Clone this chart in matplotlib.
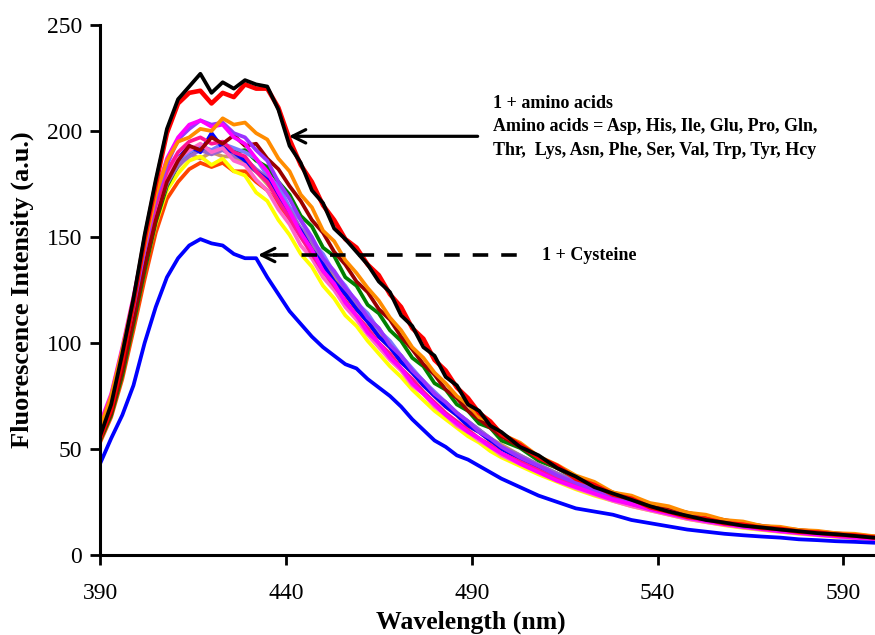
import matplotlib
matplotlib.use("Agg")
import matplotlib.pyplot as plt

# ---------------- data ----------------
wavelength = [390, 393, 396, 399, 402, 405, 408, 411, 414, 417, 420, 423, 426, 429, 432,
              435, 438, 441, 444, 447, 450, 453, 456, 459, 462, 465, 468, 471, 474, 477,
              480, 483, 486, 489, 492, 495, 498, 503, 508, 513, 518, 523, 528, 533, 538,
              543, 548, 553, 558, 563, 568, 573, 578, 583, 588, 593, 598]

probe_black = [56, 71, 95, 121, 151, 177, 201, 215, 221, 227, 218, 223, 220, 224, 222,
               221, 210, 193, 185, 172, 166, 154, 149, 143, 137, 129, 124, 113, 108, 98,
               94, 84, 80, 71, 68, 61, 58, 51, 47, 41, 37, 32, 29, 26, 23,
               20.5, 18.5, 16.5, 15.3, 13.8, 13, 12, 11.2, 10.3, 9.8, 9, 8.2]

probe_red = [55, 69, 92, 119, 149, 175, 199, 213, 218, 219, 213, 218, 216, 222, 220,
             220, 211, 196, 184, 176, 165, 158, 149, 145, 137, 132, 123, 117, 107, 102,
             92, 87, 79, 74, 67, 63, 57, 52, 46, 42, 36, 33, 28.5, 26.5, 22.5,
             20.5, 18, 17, 15, 14.3, 12.8, 12.3, 11, 10.6, 9.6, 9.2, 8.3]

cysteine = [43, 55, 66, 80, 100, 117, 131, 140, 146, 149, 147, 146, 142, 140, 140,
            131, 123, 115, 109, 103, 98, 94, 90, 88, 83, 79, 75, 70, 64, 59,
            54, 51, 47, 45, 42, 39, 36, 32, 28, 25, 22, 20.5, 19, 16.5, 15,
            13.5, 12, 11, 10, 9.3, 8.7, 8.2, 7.4, 7, 6.5, 6.2, 5.8]

aa_orange = [60, 75, 97, 121, 146, 170, 186, 195, 197, 201, 200, 206, 203, 204, 199,
             196, 187, 181, 170, 164, 153, 148, 139, 133, 126, 120, 112, 106, 98, 93,
             86, 81, 75, 71, 65, 63, 57, 53, 46.5, 42.5, 37.5, 34.5, 29.5, 28, 24.5,
             23, 20, 19, 16.5, 15.8, 13.7, 13.3, 11.8, 11.4, 10.3, 10, 8.9]
aa_violet = [58, 72, 93, 117, 144, 168, 184, 196, 201, 205, 203, 204, 199, 197, 191,
             186, 176, 168, 158, 150, 140, 134, 126, 120, 112, 107, 99, 94, 87, 82,
             76, 72, 67, 63, 58, 55, 51, 46, 42, 37.5, 34, 30.5, 27.5, 25, 22.5,
             20.5, 18.5, 17, 15.5, 14, 13, 12, 11, 10.2, 9.5, 8.8, 8.2]
aa_magenta = [62, 76, 98, 122, 147, 170, 187, 197, 203, 205, 202, 203, 197, 194, 187,
              181, 171, 162, 152, 144, 134, 128, 119, 113, 105, 100, 93, 88, 81, 76,
              71, 66, 62, 58, 55, 51, 48, 43, 39, 35, 32, 29, 26, 24, 21.5,
              19.5, 17.5, 16, 14.5, 13.3, 12.2, 11.2, 10.4, 9.6, 8.9, 8.2, 7.6]
aa_darkred = [55, 67, 87, 111, 136, 158, 176, 186, 193, 191, 197, 194, 198, 193, 194,
              187, 182, 174, 167, 158, 152, 143, 137, 129, 124, 116, 111, 103, 97, 90,
              85, 78, 74, 68, 64, 60, 56, 51, 46, 41, 37, 33, 29.5, 27, 24,
              22, 20, 18, 16.5, 15, 13.8, 12.7, 11.8, 11, 10.2, 9.5, 8.8]
aa_blue = [56, 69, 88, 112, 138, 160, 178, 187, 193, 190, 199, 192, 190, 186, 181,
           177, 169, 160, 153, 144, 137, 129, 123, 116, 110, 103, 98, 91, 86, 80,
           75, 70, 66, 61, 58, 54, 50, 45.5, 41, 37, 33.5, 30, 27, 24.5, 22,
           20, 18, 16.5, 15, 13.7, 12.5, 11.5, 10.6, 9.8, 9, 8.3, 7.7]
aa_green = [54, 66, 85, 109, 134, 157, 174, 184, 189, 192, 190, 193, 190, 191, 186,
            183, 176, 170, 160, 155, 145, 141, 131, 127, 118, 114, 106, 101, 93, 89,
            81, 78, 71, 68, 62, 60, 54, 50.5, 44.5, 41, 36, 33.5, 29, 27, 23.5,
            22, 19, 18.2, 15.8, 15.2, 13.2, 12.9, 11.3, 11.1, 9.8, 9.5, 8.4]
aa_slate = [57, 71, 91, 115, 141, 162, 178, 186, 190, 193, 191, 194, 192, 190, 187,
            179, 174, 164, 158, 148, 142, 133, 127, 119, 114, 106, 101, 94, 88, 82,
            77, 72, 67, 63, 59, 55, 51, 46.5, 42, 38, 34.5, 31, 28, 25.5, 23,
            21, 19, 17.2, 15.7, 14.3, 13.1, 12, 11, 10.2, 9.4, 8.7, 8.1]
aa_purple = [56, 70, 89, 113, 139, 160, 175, 184, 188, 191, 189, 191, 188, 187, 182,
             178, 170, 163, 154, 148, 139, 133, 125, 119, 112, 107, 99, 94, 87, 82,
             76, 72, 67, 63, 59, 55, 51, 47, 42.5, 38.5, 34.8, 31.3, 28.2, 25.7, 23.2,
             21.1, 19.1, 17.3, 15.8, 14.4, 13.2, 12.1, 11.1, 10.3, 9.5, 8.8, 8.2]
aa_pink = [61, 75, 96, 119, 143, 164, 179, 187, 191, 194, 190, 192, 186, 184, 177,
           172, 163, 156, 146, 140, 131, 125, 117, 111, 104, 98, 92, 87, 80, 76,
           70, 66, 61, 58, 54, 51, 47, 43, 39, 35, 31.5, 28.5, 25.5, 23, 21,
           19, 17, 15.5, 14.2, 13, 12, 11, 10.2, 9.4, 8.7, 8, 7.4]
aa_yellow = [55, 68, 87, 110, 135, 156, 172, 180, 186, 188, 184, 187, 181, 179, 171,
             167, 158, 151, 142, 136, 127, 121, 113, 108, 101, 95, 89, 84, 78, 73,
             68, 64, 60, 56, 53, 49, 46, 42, 38, 34.5, 31, 28, 25.5, 23, 21,
             19, 17, 15.5, 14, 12.8, 11.8, 10.9, 10, 9.3, 8.6, 8, 7.4]
aa_orangered = [53, 65, 83, 106, 130, 152, 168, 176, 182, 185, 183, 185, 181, 181, 176,
                172, 165, 158, 151, 143, 137, 129, 123, 116, 110, 103, 98, 91, 86, 80,
                75, 70, 66, 61, 58, 54, 51, 46.5, 42, 38, 34.5, 31, 28, 25.5, 23,
                21, 19, 17.3, 15.8, 14.4, 13.2, 12.2, 11.3, 10.5, 9.7, 9, 8.4]
aa_tan = [58, 72, 92, 116, 141, 161, 176, 183, 189, 187, 190, 188, 188, 184, 181,
          175, 169, 160, 154, 145, 139, 131, 125, 118, 112, 105, 100, 93, 87, 82,
          76, 72, 67, 63, 59, 55, 52, 47, 42.5, 38.5, 35, 31.5, 28.5, 26, 23.5,
          21.3, 19.3, 17.5, 16, 14.6, 13.4, 12.3, 11.4, 10.6, 9.8, 9.1, 8.5]
aa_deeppink = [60, 74, 95, 118, 143, 165, 181, 190, 195, 197, 194, 195, 190, 188, 181,
               176, 167, 159, 150, 142, 134, 127, 120, 113, 107, 100, 95, 88, 83, 77,
               72, 67, 63, 59, 55, 52, 48, 44, 40, 36, 32.5, 29.5, 26.5, 24, 21.8,
               19.8, 18, 16.3, 14.9, 13.6, 12.5, 11.5, 10.6, 9.8, 9.1, 8.4, 7.8]

cluster_series = [aa_tan, aa_orangered, aa_yellow, aa_green, aa_slate, aa_purple,
                  aa_blue, aa_pink, aa_deeppink, aa_darkred, aa_violet, aa_magenta,
                  aa_orange]
cluster_colors = ["#CC9966", "#FF4500", "#FFFF00", "#008000", "#7B7BFF", "#9966CC",
                  "#0000FF", "#FF66CC", "#FF1493", "#990000", "#9933FF", "#FF00FF",
                  "#FF8C00"]

x_ticks = [390, 440, 490, 540, 590]
y_ticks = [0, 50, 100, 150, 200, 250]

label_aa_1 = "1 + amino acids"
label_aa_2 = "Amino acids = Asp, His, Ile, Glu, Pro, Gln,"
label_aa_3 = "Thr,  Lys, Asn, Phe, Ser, Val, Trp, Tyr, Hcy"
label_cys = "1 + Cysteine"

# ---------------- figure ----------------
plt.rcParams['font.family'] = ['Liberation Serif', 'DejaVu Serif']
fig = plt.figure(figsize=(8.75, 6.35), dpi=100)
ax = fig.add_axes([0.1143, 0.126, 0.8857, 0.8346])

lw = 2.7
for ser, col in zip(cluster_series, cluster_colors):
    ax.plot(wavelength, ser, color=col, lw=lw, solid_joinstyle='round')
ax.plot(wavelength, probe_red, color="#FF0000", lw=lw + 0.6, solid_joinstyle='round')
ax.plot(wavelength, probe_black, color="#000000", lw=lw, solid_joinstyle='round')
ax.plot(wavelength, cysteine, color="#0000FF", lw=lw, solid_joinstyle='round')

ax.set_xlim(390, 598.5)
ax.set_ylim(0, 250)
ax.set_xticks(x_ticks)
ax.set_yticks(y_ticks)

for s in ['top', 'right']:
    ax.spines[s].set_visible(False)
for s in ['left', 'bottom']:
    ax.spines[s].set_linewidth(2.2)
ax.tick_params(axis='both', direction='out', length=7, width=2, labelsize=17, pad=6)
ax.tick_params(axis='x', pad=13)

ax.set_xlabel("Wavelength (nm)", fontsize=18.5, fontweight='bold', va='center')
ax.xaxis.set_label_coords(0.478, -0.127)
ax.set_ylabel("Fluorescence Intensity (a.u.)", fontsize=19, fontweight='bold', va='center')
ax.yaxis.set_label_coords(-0.1, 0.5)

# annotations
tk = dict(fontsize=13, fontweight='bold', ha='left', va='center')
ax.text(495.6, 213.0, label_aa_1, **tk)
ax.text(495.6, 202.0, label_aa_2, **tk)
ax.text(495.6, 191.0, label_aa_3, **tk)
ax.annotate('', xy=(440.8, 197.5), xytext=(491.6, 197.5),
            arrowprops=dict(arrowstyle='->', lw=2.3, color='black', mutation_scale=24,
                            shrinkA=0, shrinkB=0))

ax.plot([436.5, 503.7], [141.5, 141.5], color='black', lw=2.6, linestyle=(0, (4.3, 3.6)))
ax.annotate('', xy=(432.5, 141.5), xytext=(437.5, 141.5),
            arrowprops=dict(arrowstyle='->', lw=2.3, color='black', mutation_scale=24,
                            shrinkA=0, shrinkB=0))
ax.text(509, 141.5, label_cys, **tk)

fig.savefig("out.png", dpi=100)
